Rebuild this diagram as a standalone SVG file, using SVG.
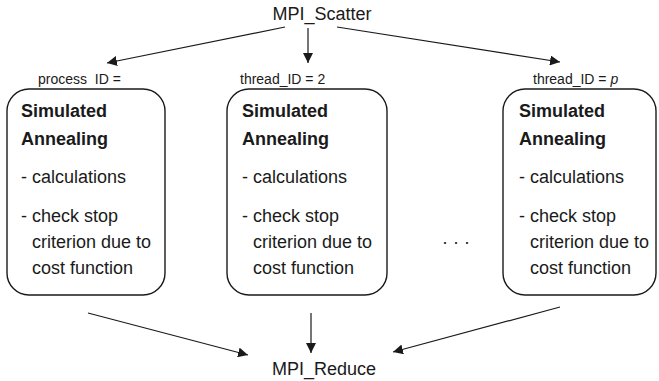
<svg xmlns="http://www.w3.org/2000/svg" width="659" height="381" viewBox="0 0 659 381">
  <style>
    text { font-family: "Liberation Sans", Arial, sans-serif; fill: #1a1a1a; }
    .title { font-size: 18px; }
    .label { font-size: 14px; }
    .head { font-size: 18px; font-weight: bold; }
    .body { font-size: 18px; }
    .box { fill: #ffffff; stroke: #1a1a1a; stroke-width: 1.4; }
    .conn { stroke: #1a1a1a; stroke-width: 1.2; fill: none; marker-end: url(#arrow); }
  </style>
  <defs>
    <marker id="arrow" viewBox="0 0 10 10" refX="10" refY="5" markerWidth="10" markerHeight="10" markerUnits="userSpaceOnUse" orient="auto">
      <path d="M0,0 L10,5 L0,10 Z" fill="#1a1a1a"/>
    </marker>
  </defs>
  <rect width="659" height="381" fill="#ffffff"/>

  <g id="scatter">
    <text class="title" x="322" y="20" text-anchor="middle">MPI_Scatter</text>
  </g>

  <g id="reduce">
    <text class="title" x="324" y="375" text-anchor="middle">MPI_Reduce</text>
  </g>

  <g id="connectors">
    <line class="conn" x1="285" y1="27" x2="107" y2="63"/>
    <line class="conn" x1="308" y1="28" x2="308" y2="63"/>
    <line class="conn" x1="337" y1="27" x2="560" y2="62"/>
    <line class="conn" x1="88" y1="313" x2="248" y2="355"/>
    <line class="conn" x1="311" y1="313" x2="311" y2="353"/>
    <line class="conn" x1="560" y1="307" x2="393" y2="352"/>
  </g>

  <g id="worker-1">
    <text class="label" x="38" y="84" xml:space="preserve">process  ID =</text>
    <rect class="box" x="7" y="89" width="158" height="206" rx="22"/>
    <text class="head" x="21" y="117">Simulated</text>
    <text class="head" x="21" y="145">Annealing</text>
    <text class="body" x="21" y="183">- calculations</text>
    <text class="body" x="21" y="222">- check stop</text>
    <text class="body" x="32" y="248">criterion due to</text>
    <text class="body" x="32" y="274">cost function</text>
  </g>

  <g id="worker-2">
    <text class="label" x="240" y="84">thread_ID = 2</text>
    <rect class="box" x="227" y="89" width="160" height="206" rx="22"/>
    <text class="head" x="242" y="117">Simulated</text>
    <text class="head" x="242" y="145">Annealing</text>
    <text class="body" x="242" y="183">- calculations</text>
    <text class="body" x="242" y="222">- check stop</text>
    <text class="body" x="253" y="248">criterion due to</text>
    <text class="body" x="253" y="274">cost function</text>
  </g>

  <g id="ellipsis">
    <text class="body" x="456" y="248" text-anchor="middle">· · ·</text>
  </g>

  <g id="worker-p">
    <text class="label" x="533" y="84">thread_ID = <tspan font-style="italic">p</tspan></text>
    <rect class="box" x="503" y="89" width="153" height="206" rx="22"/>
    <text class="head" x="519" y="117">Simulated</text>
    <text class="head" x="519" y="145">Annealing</text>
    <text class="body" x="519" y="183">- calculations</text>
    <text class="body" x="519" y="222">- check stop</text>
    <text class="body" x="530" y="248">criterion due to</text>
    <text class="body" x="530" y="274">cost function</text>
  </g>
</svg>
